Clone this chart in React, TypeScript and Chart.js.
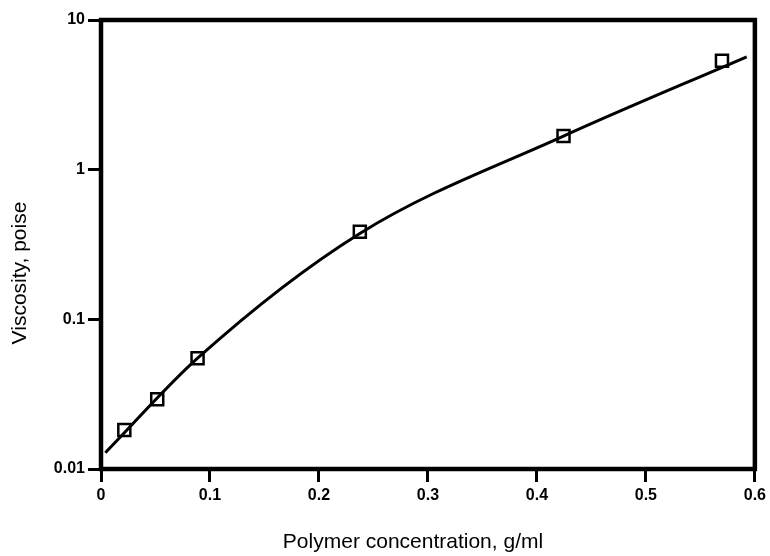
import React, { useEffect, useRef } from "react";
import { Chart, registerables } from "chart.js";

Chart.register(...registerables);

// ---- data ----
const xTickValues = [0, 0.1, 0.2, 0.3, 0.4, 0.5, 0.6];
const xTickLabels = ["0", "0.1", "0.2", "0.3", "0.4", "0.5", "0.6"];
const yTickValues = [0.01, 0.1, 1, 10];
const yTickLabels = ["0.01", "0.1", "1", "10"];

const concentration = [0.0214, 0.0516, 0.0886, 0.2375, 0.4244, 0.5698];
const viscosity = [0.0182, 0.0292, 0.0549, 0.385, 1.677, 5.34];

// fitted curve
const fitConcentration = [0.004, 0.0886, 0.2375, 0.4244, 0.5925];
const fitViscosity = [0.01285, 0.055, 0.375, 1.677, 5.68];

const xTitle = "Polymer concentration, g/ml";
const yTitle = "Viscosity, poise";

const FONT = "'Liberation Sans', Arial, Helvetica, sans-serif";

export default function App() {
  const ref = useRef<HTMLCanvasElement | null>(null);

  useEffect(() => {
    document.body.style.margin = "0";
    const canvas = ref.current;
    if (!canvas) return;

    const framePlugin = {
      id: "frameAndTitles",
      beforeDatasetsDraw(chart: any) {
        const { ctx, chartArea } = chart;
        ctx.save();
        ctx.strokeStyle = "#000";
        ctx.lineWidth = 4.5;
        ctx.strokeRect(chartArea.left, chartArea.top, chartArea.right - chartArea.left, chartArea.bottom - chartArea.top);
        ctx.restore();
      },
      afterDraw(chart: any) {
        const { ctx } = chart;
        ctx.save();
        ctx.fillStyle = "#000";
        ctx.font = `21px ${FONT}`;
        ctx.textAlign = "center";
        ctx.textBaseline = "alphabetic";
        ctx.fillText(xTitle, 413, 548);
        ctx.translate(26, 273);
        ctx.rotate(-Math.PI / 2);
        ctx.fillText(yTitle, 0, 0);
        ctx.restore();
      },
    };

    const chart = new Chart(canvas, {
      type: "scatter",
      data: {
        datasets: [
          {
            label: "measured",
            data: concentration.map((x, i) => ({ x, y: viscosity[i] })),
            showLine: false,
            pointStyle: "rect",
            pointRadius: 8.5,
            pointBorderWidth: 2.5,
            pointBorderColor: "#000",
            pointBackgroundColor: "rgba(0,0,0,0)",
            order: 0,
          },
          {
            label: "fit",
            data: fitConcentration.map((x, i) => ({ x, y: fitViscosity[i] })),
            showLine: true,
            borderColor: "#000",
            borderWidth: 3,
            pointRadius: 0,
            cubicInterpolationMode: "monotone",
            fill: false,
            order: 1,
          },
        ],
      },
      options: {
        responsive: false,
        animation: false,
        devicePixelRatio: 1,
        layout: { padding: { left: 0, top: 20, right: 11, bottom: 0 } },
        plugins: {
          legend: { display: false },
          tooltip: { enabled: false },
          title: { display: false },
        },
        scales: {
          x: {
            type: "linear",
            min: 0,
            max: 0.6,
            border: { display: false },
            grid: {
              display: true,
              drawOnChartArea: false,
              drawTicks: true,
              tickLength: 13,
              tickWidth: 3,
              tickColor: "#000",
            },
            ticks: {
              color: "#000",
              font: { family: FONT, size: 16, weight: "bold" },
              padding: 4,
              maxRotation: 0,
              callback: (_v: any, i: number) => xTickLabels[i],
            },
            afterBuildTicks: (scale: any) => {
              scale.ticks = xTickValues.map((v) => ({ value: v }));
            },
            afterFit: (scale: any) => {
              scale.height = 87;
            },
          },
          y: {
            type: "logarithmic",
            min: 0.01,
            max: 10,
            border: { display: false },
            grid: {
              display: true,
              drawOnChartArea: false,
              drawTicks: true,
              tickLength: 13,
              tickWidth: 3,
              tickColor: "#000",
            },
            ticks: {
              color: "#000",
              font: { family: FONT, size: 16, weight: "bold" },
              padding: 3,
              callback: (_v: any, i: number) => yTickLabels[i],
            },
            afterBuildTicks: (scale: any) => {
              scale.ticks = yTickValues.map((v) => ({ value: v }));
            },
            afterFit: (scale: any) => {
              scale.width = 101;
            },
          },
        },
      },
      plugins: [framePlugin],
    });

    return () => chart.destroy();
  }, []);

  return (
    <div style={{ width: 770, height: 556, background: "#fff" }}>
      <canvas ref={ref} width={770} height={556} style={{ display: "block" }} />
    </div>
  );
}
